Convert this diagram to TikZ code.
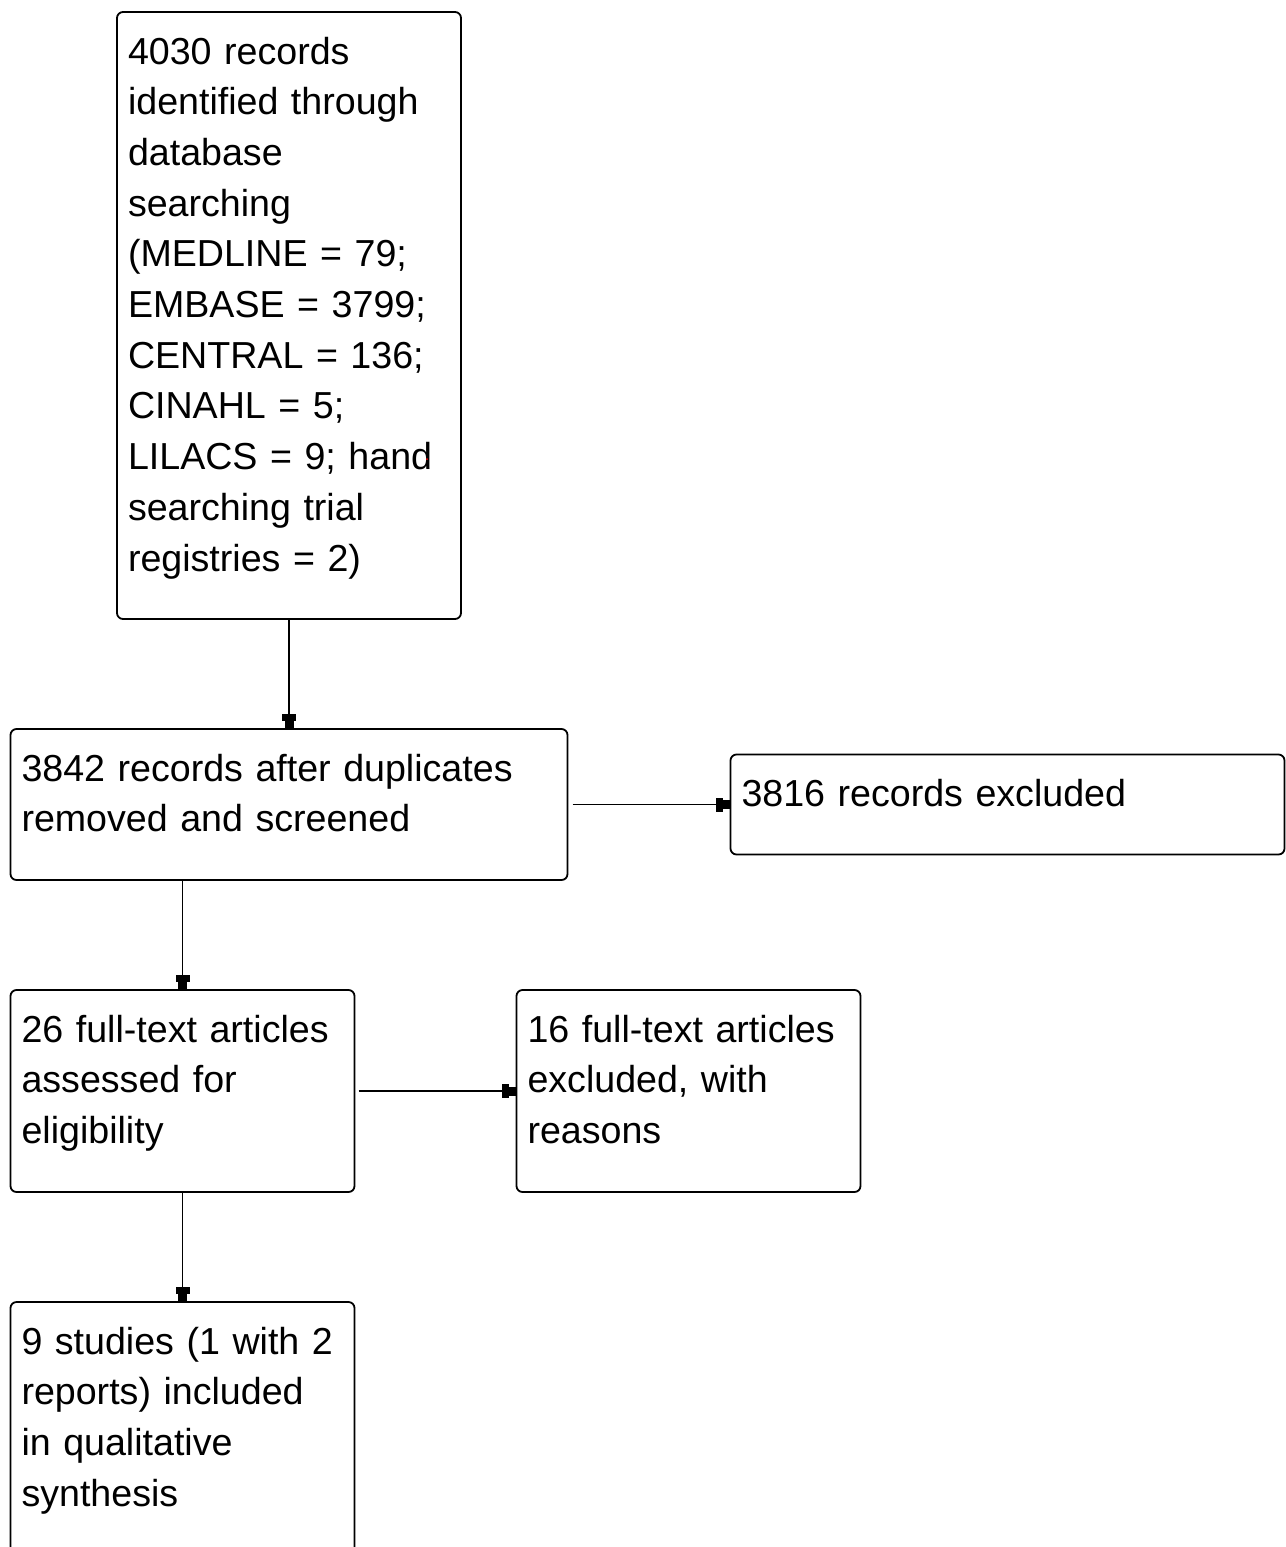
\documentclass[tikz,border=0pt]{standalone}
\usepackage{fontspec}
\setmainfont{Liberation Sans}
\usetikzlibrary{positioning,arrows.meta}

\tikzset{
  flowbox/.style={draw, line width=0.9pt, rounded corners=3pt, align=left,
    outer sep=0pt, inner xsep=5.5pt, inner ysep=5pt, text height=21pt,
    font=\fontsize{18.8pt}{25.35pt}\selectfont},
  flow/.style={line width=0.9pt,
    -{Rectangle[length=3.5pt,width=7pt,sep=0pt]Rectangle[length=4pt,width=4.5pt]}},
}

\begin{document}
\begin{tikzpicture}
    \useasboundingbox (0,0) rectangle (642.5pt,-773.5pt);
    \node[flowbox, anchor=north west, text width=161pt, text depth=272.5pt] (search) at (58.5pt,-6pt)
        {4030 records\\identified through\\database\\searching\\(MEDLINE = 79;\\EMBASE = 3799;\\CENTRAL = 136;\\CINAHL = 5;\\LILACS = 9; hand\\searching trial\\registries = 2)};
    \node[flowbox, text width=267.5pt, text depth=44.5pt] (dedup) [below=55pt of search]
        {3842 records after duplicates\\removed and screened};
    \node[flowbox, text width=266pt, text depth=19pt] (excl) [right=81.5pt of dedup]
        {3816 records excluded};
    \node[flowbox, text width=161pt, text depth=70pt] (full) [below=55pt of dedup.south west, anchor=north west]
        {26 full-text articles\\assessed for\\eligibility};
    \node[flowbox, text width=161pt, text depth=70pt] (fullexcl) [right=81pt of full]
        {16 full-text articles\\excluded, with\\reasons};
    \node[flowbox, text width=161pt, text depth=119pt] (incl) [below=55pt of full]
        {9 studies (1 with 2\\reports) included\\in qualitative\\synthesis};
    \fill[red] (213.5pt,-229.5pt) circle (0.5pt);
    \path[flow]
        (search)
            edge (dedup)
        (dedup.south -| full.north)
            edge (full.north)
        (dedup.east)
            edge [shorten <=2.5pt] (dedup.east -| excl.west)
        (full)
            edge [shorten <=2pt] (fullexcl)
            edge (incl);
\end{tikzpicture}
\end{document}
